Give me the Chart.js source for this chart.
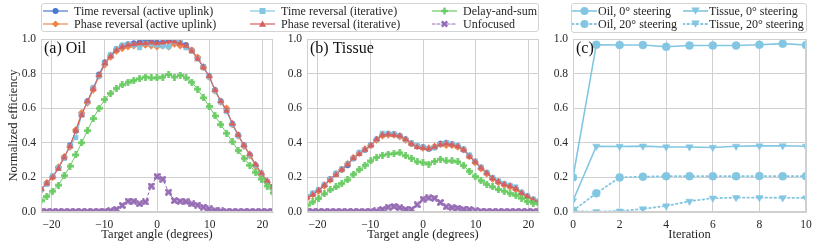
<!DOCTYPE html>
<html>
<head>
<meta charset="utf-8">
<script src="https://cdn.jsdelivr.net/npm/chart.js@4.4.1/dist/chart.umd.min.js"></script>
<style>
  body { margin: 0; background: #fff; }
  #wrap { position: relative; width: 830px; height: 250px; font-family: "Liberation Serif", "DejaVu Serif", serif; color: #262626; }
  #wrap canvas { position: absolute; left: 0; top: 0; }
  .legend { position: absolute; border: 1px solid #d4d4d4; border-radius: 3px; background: rgba(255,255,255,0.85); box-sizing: border-box; z-index: 2; }
  .item { position: absolute; height: 14px; display: flex; align-items: center; font-size: 12px; white-space: nowrap; z-index: 3; }
  .item svg { flex: none; }
</style>
</head>
<body>
<div id="wrap">
  <canvas id="cA" width="830" height="250"></canvas>
  <canvas id="cB" width="830" height="250"></canvas>
  <canvas id="cC" width="830" height="250"></canvas>
  <div class="legend" style="left:41px;top:3px;width:498px;height:29px"></div>
  <div class="legend" style="left:571px;top:3px;width:236px;height:30px"></div>
</div>
<script>
// target angles (degrees)
const angles = [-22, -20.9, -19.8, -18.7, -17.6, -16.5, -15.4, -14.3, -13.2, -12.1, -11, -9.9, -8.8, -7.7, -6.6, -5.5, -4.4, -3.3, -2.2, -1.1,
  0, 1.1, 2.2, 3.3, 4.4, 5.5, 6.6, 7.7, 8.8, 9.9, 11, 12.1, 13.2, 14.3, 15.4, 16.5, 17.6, 18.7, 19.8, 20.9, 22];
const angleTicks = [-20, -10, 0, 10, 20];

// (a) oil
const oilTrActive = [0.13, 0.165, 0.205, 0.255, 0.315, 0.385, 0.47, 0.565, 0.64, 0.715, 0.795, 0.865, 0.905, 0.94, 0.96, 0.97, 0.975, 0.98, 0.99, 0.985,
  0.98, 0.98, 0.99, 0.99, 0.98, 0.965, 0.935, 0.89, 0.84, 0.785, 0.705, 0.64, 0.59, 0.51, 0.445, 0.385, 0.33, 0.27, 0.22, 0.175, 0.145];
const oilPrActive = [0.125, 0.17, 0.2, 0.26, 0.32, 0.375, 0.475, 0.575, 0.63, 0.705, 0.785, 0.85, 0.895, 0.93, 0.945, 0.955, 0.96, 0.96, 0.965, 0.96,
  0.955, 0.96, 0.955, 0.97, 0.96, 0.955, 0.935, 0.895, 0.835, 0.78, 0.7, 0.635, 0.6, 0.505, 0.44, 0.38, 0.325, 0.265, 0.215, 0.17, 0.14];
const oilTrIter = [0.13, 0.16, 0.21, 0.255, 0.31, 0.38, 0.43, 0.56, 0.635, 0.72, 0.785, 0.86, 0.91, 0.945, 0.965, 0.97, 0.965, 0.95, 0.975, 0.97,
  0.965, 0.96, 0.955, 0.985, 0.985, 0.95, 0.93, 0.885, 0.835, 0.78, 0.7, 0.635, 0.58, 0.505, 0.44, 0.385, 0.33, 0.27, 0.225, 0.175, 0.14];
const oilPrIter = [0.135, 0.165, 0.2, 0.25, 0.315, 0.38, 0.47, 0.56, 0.64, 0.71, 0.79, 0.86, 0.9, 0.935, 0.955, 0.965, 0.97, 0.975, 0.975, 0.98,
  0.975, 0.98, 0.985, 0.985, 0.975, 0.96, 0.93, 0.885, 0.835, 0.785, 0.705, 0.64, 0.585, 0.51, 0.445, 0.385, 0.335, 0.275, 0.225, 0.18, 0.145];
const oilDas = [0.065, 0.09, 0.12, 0.155, 0.21, 0.265, 0.33, 0.4, 0.47, 0.54, 0.6, 0.65, 0.685, 0.715, 0.735, 0.75, 0.76, 0.77, 0.78, 0.775,
  0.775, 0.78, 0.795, 0.78, 0.79, 0.775, 0.75, 0.71, 0.66, 0.61, 0.555, 0.505, 0.455, 0.405, 0.355, 0.31, 0.27, 0.23, 0.19, 0.15, 0.11];
const oilUnfocused = [0.003, 0.003, 0.003, 0.003, 0.003, 0.003, 0.003, 0.003, 0.003, 0.003, 0.004, 0.005, 0.008, 0.016, 0.038, 0.063, 0.062, 0.048, 0.058, 0.15,
  0.205, 0.19, 0.115, 0.066, 0.062, 0.06, 0.047, 0.04, 0.028, 0.018, 0.01, 0.006, 0.004, 0.003, 0.003, 0.003, 0.003, 0.003, 0.003, 0.003, 0.003];

// (b) tissue
const tisTrActive = [0.085, 0.105, 0.125, 0.155, 0.19, 0.22, 0.245, 0.27, 0.31, 0.34, 0.36, 0.385, 0.42, 0.445, 0.45, 0.45, 0.44, 0.42, 0.395, 0.38,
  0.375, 0.365, 0.375, 0.395, 0.4, 0.39, 0.38, 0.36, 0.325, 0.29, 0.255, 0.225, 0.195, 0.175, 0.16, 0.15, 0.135, 0.11, 0.09, 0.07, 0.06];
const tisPrActive = [0.08, 0.1, 0.12, 0.15, 0.185, 0.22, 0.245, 0.28, 0.315, 0.34, 0.365, 0.385, 0.415, 0.44, 0.445, 0.445, 0.435, 0.415, 0.395, 0.38,
  0.37, 0.37, 0.38, 0.39, 0.385, 0.385, 0.375, 0.36, 0.32, 0.285, 0.25, 0.22, 0.19, 0.17, 0.155, 0.145, 0.13, 0.105, 0.085, 0.07, 0.058];
const tisTrIter = [0.09, 0.11, 0.13, 0.16, 0.19, 0.225, 0.25, 0.28, 0.31, 0.345, 0.36, 0.39, 0.42, 0.455, 0.455, 0.45, 0.44, 0.42, 0.4, 0.385,
  0.375, 0.365, 0.37, 0.39, 0.4, 0.395, 0.385, 0.365, 0.33, 0.295, 0.26, 0.23, 0.2, 0.18, 0.165, 0.155, 0.145, 0.115, 0.095, 0.075, 0.065];
const tisPrIter = [0.085, 0.1, 0.125, 0.155, 0.185, 0.215, 0.245, 0.275, 0.31, 0.335, 0.36, 0.385, 0.42, 0.445, 0.45, 0.445, 0.44, 0.42, 0.395, 0.375,
  0.37, 0.365, 0.375, 0.39, 0.395, 0.39, 0.38, 0.36, 0.32, 0.29, 0.255, 0.225, 0.195, 0.175, 0.16, 0.15, 0.135, 0.11, 0.09, 0.07, 0.06];
const tisDas = [0.04, 0.058, 0.078, 0.105, 0.128, 0.145, 0.165, 0.185, 0.218, 0.245, 0.27, 0.295, 0.315, 0.328, 0.335, 0.338, 0.342, 0.325, 0.31, 0.29,
  0.284, 0.277, 0.292, 0.305, 0.295, 0.295, 0.29, 0.268, 0.235, 0.205, 0.18, 0.16, 0.145, 0.13, 0.12, 0.107, 0.097, 0.08, 0.06, 0.05, 0.045];
const tisUnfocused = [0.003, 0.003, 0.003, 0.003, 0.003, 0.003, 0.003, 0.003, 0.003, 0.003, 0.003, 0.004, 0.006, 0.015, 0.028, 0.032, 0.025, 0.015, 0.015, 0.042,
  0.075, 0.082, 0.08, 0.055, 0.03, 0.025, 0.023, 0.016, 0.014, 0.008, 0.005, 0.004, 0.003, 0.003, 0.003, 0.003, 0.003, 0.003, 0.003, 0.003, 0.003];

// (c) convergence vs iteration
const iterations = [0, 1, 2, 3, 4, 5, 6, 7, 8, 9, 10];
const oil0 = [0.2, 0.967, 0.965, 0.965, 0.955, 0.962, 0.962, 0.962, 0.967, 0.973, 0.965];
const tissue0 = [0.065, 0.38, 0.379, 0.381, 0.376, 0.376, 0.373, 0.38, 0.382, 0.383, 0.38];
const oil20 = [0.008, 0.108, 0.2, 0.204, 0.207, 0.207, 0.207, 0.207, 0.208, 0.207, 0.207];
const tissue20 = [0.004, 0.002, 0.005, 0.018, 0.035, 0.062, 0.08, 0.083, 0.083, 0.082, 0.081];

const C = { blue: "#4878d0", orange: "#ee854a", green: "#6acc64", red: "#d65f5f", purple: "#956cb4", sky: "#82c6e2" };
const FONT = "'Liberation Serif', 'DejaVu Serif', serif";
const GRID = "#d0d0d0";

function markerCanvas(shape, color, s) {
  const c = document.createElement("canvas");
  c.width = s; c.height = s;
  const g = c.getContext("2d");
  g.fillStyle = color;
  const t = s * 0.38, m = s / 2;
  if (shape === "plus") {
    g.fillRect(m - t / 2, 0, t, s);
    g.fillRect(0, m - t / 2, s, t);
  } else {
    g.translate(m, m); g.rotate(Math.PI / 4);
    const L = s * 1.2;
    g.fillRect(-t / 2, -L / 2, t, L);
    g.fillRect(-L / 2, -t / 2, L, t);
  }
  return c;
}

const minusFmt = (v) => (v < 0 ? "\u2212" + Math.abs(v) : String(v));

const framePlugin = {
  id: "frame",
  afterDraw(chart) {
    const { ctx, chartArea: a } = chart;
    ctx.save();
    ctx.strokeStyle = GRID;
    ctx.lineWidth = 1;
    ctx.strokeRect(a.left + 0.5, a.top + 0.5, a.right - a.left - 1, a.bottom - a.top - 1);
    const lbl = chart.options.plugins.panelLabel;
    if (lbl) {
      ctx.fillStyle = "#111";
      ctx.font = "16px " + FONT;
      ctx.textBaseline = "top";
      ctx.fillText(lbl.text, a.left + 3, a.top + 2);
    }
    ctx.restore();
  }
};

function lineSet(xs, ys, color, style, opts) {
  return Object.assign({
    data: xs.map((x, i) => ({ x: x, y: ys[i] })),
    borderColor: color,
    backgroundColor: color,
    borderWidth: 1,
    pointStyle: style,
    pointRadius: 2.8,
    pointBorderWidth: 0.5,
    pointBackgroundColor: color,
    pointBorderColor: color,
    tension: 0,
    fill: false
  }, opts || {});
}

function angleSets(tra, pra, tri, pri, das, unf) {
  const sets = [
    lineSet(angles, tra, C.blue, "circle"),
    lineSet(angles, pra, C.orange, "rectRot", { pointRadius: 3.4 }),
    lineSet(angles, tri, C.sky, "rect", { pointRadius: 3.2 }),
    lineSet(angles, pri, C.red, "triangle", { pointRadius: 3.4 }),
    lineSet(angles, das, C.green, markerCanvas("plus", C.green, 7)),
    lineSet(angles, unf, C.purple, markerCanvas("x", C.purple, 7), { borderDash: [3, 2] })
  ];
  sets.forEach((s, i) => { s.order = sets.length - i; });
  return sets;
}

function baseOptions(padLeft, padRight, yWidth, yTitle, xTitle, label) {
  return {
    responsive: false,
    animation: false,
    layout: { padding: { left: padLeft, right: padRight, top: 39, bottom: 0 } },
    plugins: { legend: { display: false }, tooltip: { enabled: false }, panelLabel: { text: label } },
    scales: {
      x: {
        type: "linear",
        grid: { color: GRID, lineWidth: 1, drawTicks: false },
        border: { color: GRID },
        ticks: { color: "#262626", padding: 6, font: { family: FONT, size: 11.5 } },
        title: { display: true, text: xTitle, color: "#262626", font: { family: FONT, size: 12.5 }, padding: { top: 0, bottom: 8 } },
        afterFit: (s) => { s.height = 38; }
      },
      y: {
        min: 0, max: 1,
        grid: { color: GRID, lineWidth: 1, drawTicks: false },
        border: { color: GRID },
        ticks: { stepSize: 0.2, color: "#262626", padding: 5, font: { family: FONT, size: 11.5 }, callback: (v) => v.toFixed(1) },
        title: { display: !!yTitle, text: yTitle || "", color: "#262626", font: { family: FONT, size: 12.5 }, padding: { top: 6, bottom: 0 } },
        afterFit: (s) => { s.width = yWidth; }
      }
    }
  };
}

function angleOptions(padLeft, padRight, yWidth, yTitle, label) {
  const o = baseOptions(padLeft, padRight, yWidth, yTitle, "Target angle (degrees)", label);
  o.scales.x.min = -22;
  o.scales.x.max = 22;
  o.scales.x.afterBuildTicks = (s) => { s.ticks = angleTicks.map((v) => ({ value: v })); };
  o.scales.x.ticks.callback = minusFmt;
  return o;
}

new Chart(document.getElementById("cA"), {
  type: "line",
  data: { datasets: angleSets(oilTrActive, oilPrActive, oilTrIter, oilPrIter, oilDas, oilUnfocused) },
  options: angleOptions(0, 557, 41, "Normalized efficiency", "(a) Oil"),
  plugins: [framePlugin]
});

new Chart(document.getElementById("cB"), {
  type: "line",
  data: { datasets: angleSets(tisTrActive, tisPrActive, tisTrIter, tisPrIter, tisDas, tisUnfocused) },
  options: angleOptions(279, 291, 28, null, "(b) Tissue"),
  plugins: [framePlugin]
});

const optC = baseOptions(545, 24, 28, null, "Iteration", "(c)");
optC.scales.x.min = 0;
optC.scales.x.max = 10;
optC.scales.x.ticks.stepSize = 2;
const dotted = { borderDash: [1.5, 3], borderCapStyle: "round" };
new Chart(document.getElementById("cC"), {
  type: "line",
  data: {
    datasets: [
      lineSet(iterations, oil0, C.sky, "circle", { borderWidth: 1.6, pointRadius: 4 }),
      lineSet(iterations, tissue0, C.sky, "triangle", { borderWidth: 1.6, pointRadius: 4.2, pointRotation: 180 }),
      lineSet(iterations, oil20, C.sky, "circle", Object.assign({ borderWidth: 1.8, pointRadius: 4 }, dotted)),
      lineSet(iterations, tissue20, C.sky, "triangle", Object.assign({ borderWidth: 1.8, pointRadius: 4.2, pointRotation: 180 }, dotted))
    ]
  },
  options: optC,
  plugins: [framePlugin]
});

// legends
const legendLeft = [
  { text: "Time reversal (active uplink)", color: C.blue, marker: "circle", x: 43, y: 11 },
  { text: "Phase reversal (active uplink)", color: C.orange, marker: "diamond", x: 43, y: 24 },
  { text: "Time reversal (iterative)", color: C.sky, marker: "square", x: 250, y: 11 },
  { text: "Phase reversal (iterative)", color: C.red, marker: "triangle", x: 250, y: 24 },
  { text: "Delay-and-sum", color: C.green, marker: "plus", x: 432, y: 11 },
  { text: "Unfocused", color: C.purple, marker: "x", x: 432, y: 24, dash: "3,2" }
];
const legendRight = [
  { text: "Oil, 0\u00b0 steering", color: C.sky, marker: "bigcircle", x: 572, y: 11, width: 1.6 },
  { text: "Oil, 20\u00b0 steering", color: C.sky, marker: "bigcircle", x: 572, y: 24, width: 1.8, dash: "1.5,3" },
  { text: "Tissue, 0\u00b0 steering", color: C.sky, marker: "tridown", x: 683, y: 11, width: 1.6 },
  { text: "Tissue, 20\u00b0 steering", color: C.sky, marker: "tridown", x: 683, y: 24, width: 1.8, dash: "1.5,3" }
];

function markerSvg(m, c) {
  const cx = 12.5, cy = 7;
  switch (m) {
    case "circle": return `<circle cx="${cx}" cy="${cy}" r="3" fill="${c}"/>`;
    case "bigcircle": return `<circle cx="${cx}" cy="${cy}" r="4" fill="${c}"/>`;
    case "diamond": return `<polygon points="${cx},${cy - 3.6} ${cx + 3.6},${cy} ${cx},${cy + 3.6} ${cx - 3.6},${cy}" fill="${c}"/>`;
    case "square": return `<rect x="${cx - 3}" y="${cy - 3}" width="6" height="6" fill="${c}"/>`;
    case "triangle": return `<polygon points="${cx},${cy - 3.6} ${cx + 3.6},${cy + 2.8} ${cx - 3.6},${cy + 2.8}" fill="${c}"/>`;
    case "tridown": return `<polygon points="${cx - 4.2},${cy - 3.4} ${cx + 4.2},${cy - 3.4} ${cx},${cy + 3.8}" fill="${c}"/>`;
    case "plus": return `<rect x="${cx - 1.2}" y="${cy - 3.4}" width="2.4" height="6.8" fill="${c}"/><rect x="${cx - 3.4}" y="${cy - 1.2}" width="6.8" height="2.4" fill="${c}"/>`;
    default: return `<g transform="rotate(45 ${cx} ${cy})"><rect x="${cx - 1.2}" y="${cy - 3.8}" width="2.4" height="7.6" fill="${c}"/><rect x="${cx - 3.8}" y="${cy - 1.2}" width="7.6" height="2.4" fill="${c}"/></g>`;
  }
}

const wrap = document.getElementById("wrap");
legendLeft.concat(legendRight).forEach((e) => {
  const d = document.createElement("div");
  d.className = "item";
  d.style.left = e.x + "px";
  d.style.top = (e.y - 7) + "px";
  const dash = e.dash ? ` stroke-dasharray="${e.dash}" stroke-linecap="round"` : "";
  const gap = e.marker === "bigcircle" || e.marker === "tridown" ? 1 : 6;
  d.innerHTML = `<svg width="25" height="14"><line x1="0" y1="7" x2="25" y2="7" stroke="${e.color}" stroke-width="${e.width || 1.2}"${dash}/>${markerSvg(e.marker, e.color)}</svg><span style="margin-left:${gap}px">${e.text}</span>`;
  wrap.appendChild(d);
});
</script>
</body>
</html>
